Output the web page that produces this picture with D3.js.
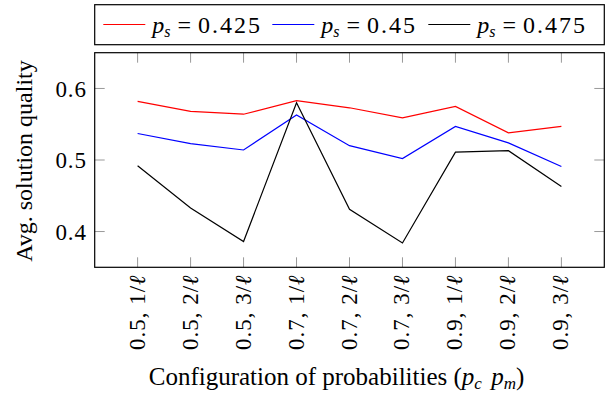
<!DOCTYPE html>
<html>
<head>
<meta charset="utf-8">
<script src="https://cdn.jsdelivr.net/npm/d3@7"></script>
<style>
  body { margin: 0; background: #fff; }
</style>
</head>
<body>
<div id="chart"></div>
<script>
const configs = ["0.5", "0.5", "0.5", "0.7", "0.7", "0.7", "0.9", "0.9", "0.9"];
const mutations = ["1", "2", "3", "1", "2", "3", "1", "2", "3"];
const ps425 = [0.582, 0.568, 0.564, 0.583, 0.573, 0.559, 0.575, 0.538, 0.547];
const ps45 = [0.537, 0.523, 0.514, 0.563, 0.520, 0.502, 0.547, 0.524, 0.491];
const ps475 = [0.492, 0.433, 0.386, 0.580, 0.431, 0.384, 0.511, 0.513, 0.463];
const seriesNames = ["0.425", "0.45", "0.475"];
const seriesColors = ["#ff0000", "#0000ff", "#000000"];
const yTicks = [0.4, 0.5, 0.6];

const W = 608, H = 395;
const margin = {top: 52.7, right: 3.7, bottom: 127.7, left: 94.7};
const width = W - margin.left - margin.right;
const height = H - margin.top - margin.bottom;

const svg = d3.select("#chart").append("svg")
  .attr("width", W)
  .attr("height", H)
  .style("font-family", '"Liberation Serif"');

const g = svg.append("g")
  .attr("transform", `translate(${margin.left}, ${margin.top})`);

const idx = d3.range(configs.length);
const x = d3.scalePoint()
  .domain(idx)
  .range([0, width])
  .padding(0.81);
const y = d3.scaleLinear()
  .domain([0.35, 0.65])
  .range([height, 0]);

// ticks (inside, mirrored like pgfplots)
const tickLen = 10;
const tickColor = "#999";
g.selectAll(".xt-bot").data(idx).join("line")
  .attr("x1", d => x(d)).attr("x2", d => x(d))
  .attr("y1", height).attr("y2", height - tickLen)
  .attr("stroke", tickColor);
g.selectAll(".xt-top").data(idx).join("line")
  .attr("x1", d => x(d)).attr("x2", d => x(d))
  .attr("y1", 0).attr("y2", tickLen)
  .attr("stroke", tickColor);
g.selectAll(".yt-left").data(yTicks).join("line")
  .attr("x1", 0).attr("x2", tickLen)
  .attr("y1", d => y(d)).attr("y2", d => y(d))
  .attr("stroke", tickColor);
g.selectAll(".yt-right").data(yTicks).join("line")
  .attr("x1", width).attr("x2", width - tickLen)
  .attr("y1", d => y(d)).attr("y2", d => y(d))
  .attr("stroke", tickColor);

// y tick labels
g.selectAll(".ylab").data(yTicks).join("text")
  .attr("x", -8)
  .attr("y", d => y(d))
  .attr("dy", "0.35em")
  .attr("text-anchor", "end")
  .attr("font-size", 23)
  .attr("letter-spacing", 0.8)
  .text(d => d3.format(".1f")(d));

// x tick labels, rotated
const xl = g.selectAll(".xlab").data(idx).join("text")
  .attr("transform", d => `translate(${x(d) + 7}, ${height + 7}) rotate(-90)`)
  .attr("text-anchor", "end")
  .attr("font-size", 23)
  .attr("letter-spacing", 1);
xl.append("tspan").text(d => configs[d] + ", " + mutations[d] + "/");
xl.append("tspan").attr("font-style", "italic").text("ℓ");

// lines
const line = d3.line()
  .x((d, i) => x(i))
  .y(d => y(d));
const allSeries = [ps425, ps45, ps475];
g.selectAll(".series").data(allSeries).join("path")
  .attr("fill", "none")
  .attr("stroke", (d, i) => seriesColors[i])
  .attr("stroke-width", 1.2)
  .attr("d", line);

// frame
g.append("rect")
  .attr("width", width).attr("height", height)
  .attr("fill", "none")
  .attr("stroke", "#000")
  .attr("stroke-width", 1.2);

// axis labels
g.append("text")
  .attr("transform", `translate(-62.5, ${height / 2 + 1}) rotate(-90)`)
  .attr("text-anchor", "middle")
  .attr("font-size", 24)
  .text("Avg. solution quality");

const xt = g.append("text")
  .attr("x", width / 2 - 13)
  .attr("y", height + 118)
  .attr("text-anchor", "middle")
  .attr("font-size", 25);
xt.append("tspan").text("Configuration of probabilities (");
xt.append("tspan").attr("font-style", "italic").text("p");
xt.append("tspan").attr("font-size", 17).attr("font-style", "italic").attr("dy", 4).text("c");
xt.append("tspan").attr("dy", -4).attr("dx", 3).text(" ");
xt.append("tspan").attr("font-style", "italic").text("p");
xt.append("tspan").attr("font-size", 17).attr("font-style", "italic").attr("dy", 4).text("m");
xt.append("tspan").attr("dy", -4).text(")");

// legend
const legend = svg.append("g");
legend.append("rect")
  .attr("x", 94.7).attr("y", 4.7)
  .attr("width", 509.6).attr("height", 40)
  .attr("fill", "#fff")
  .attr("stroke", "#000")
  .attr("stroke-width", 1.2);
const legX = [103.3, 272.3, 428.3];
seriesNames.forEach((name, i) => {
  legend.append("line")
    .attr("x1", legX[i]).attr("x2", legX[i] + 42)
    .attr("y1", 24.5).attr("y2", 24.5)
    .attr("stroke", seriesColors[i])
    .attr("stroke-width", 1.2);
  const t = legend.append("text")
    .attr("x", legX[i] + 49)
    .attr("y", 32.5)
    .attr("font-size", 24);
  t.append("tspan").attr("font-style", "italic").text("p");
  t.append("tspan").attr("font-size", 16).attr("font-style", "italic").attr("dy", 4).text("s");
  t.append("tspan").attr("dy", -4).attr("dx", 7).text("=");
  t.append("tspan").attr("dx", 7).attr("letter-spacing", 2).text(name);
});
</script>
</body>
</html>
